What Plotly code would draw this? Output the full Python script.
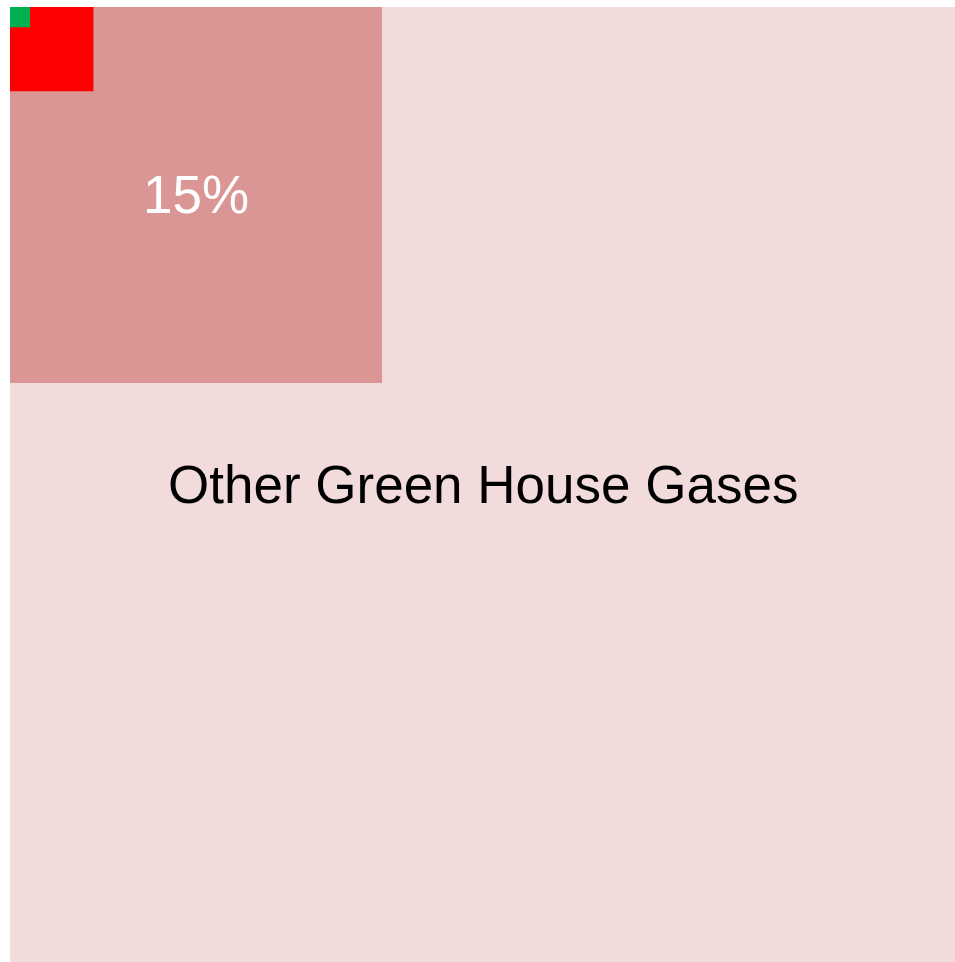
import numpy as np
import plotly.graph_objects as go

# share of total emissions (%), largest first; squares are drawn area-proportional
names = ["Other Green House Gases", "15%", "Red", "Green"]
shares = [100.0, 15.5, 0.78, 0.045]
labels = ["Other Green House Gases", "15%", "", ""]
colors = ["#F2DCDB", "#DA9694", "#FF0000", "#00B050"]
label_colors = ["black", "white", "white", "white"]

fig = go.Figure()

for name, share, label, color, label_color in zip(
    names, shares, labels, colors, label_colors
):
    side = np.sqrt(share / 100.0)
    fig.add_trace(
        go.Scatter(
            x=[0, side, side, 0, 0],
            y=[0, 0, side, side, 0],
            mode="lines",
            fill="toself",
            fillcolor=color,
            line=dict(width=0, color=color),
            name=name,
            hoverinfo="name",
        )
    )
    if label:
        fig.add_annotation(
            x=side / 2,
            y=side / 2,
            text=label,
            showarrow=False,
            font=dict(family="Liberation Sans, Arial", size=53, color=label_color),
        )

fig.update_xaxes(range=[0, 1], visible=False)
fig.update_yaxes(range=[1, 0], visible=False)
fig.update_layout(
    width=955,
    height=962,
    margin=dict(l=10, r=0, t=7, b=0),
    paper_bgcolor="white",
    plot_bgcolor="white",
    showlegend=False,
)

# let the figure sit flush in the window, no page margin or scrollbars
fig.write_html(
    "out.html",
    config={"responsive": False, "displayModeBar": False},
    post_script="document.body.style.margin='0';document.body.style.overflow='hidden';",
)
